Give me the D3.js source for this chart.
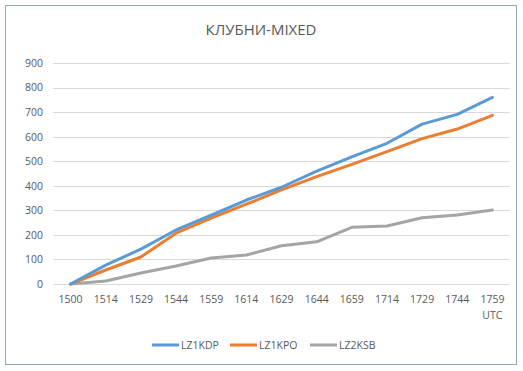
<!DOCTYPE html>
<html>
<head>
<meta charset="utf-8">
<script src="https://cdnjs.cloudflare.com/ajax/libs/d3/7.8.5/d3.min.js"></script>
<style>
body{margin:0;background:#fff;}
text{font-family:"Open Sans","Noto Sans",sans-serif;fill:#595959;}
</style>
</head>
<body>
<script>
var W=523,H=371;
var times=["1500","1514","1529","1544","1559","1614","1629","1644","1659","1714","1729","1744","1759"];
var lz1kdp=[0,77,142,220,280,342,394,460,518,573,651,691,760];
var lz1kpo=[0,57,110,207,268,325,383,437,487,539,592,631,687];
var lz2ksb=[0,12,45,73,106,118,156,172,231,236,270,281,301];
var yticks=[0,100,200,300,400,500,600,700,800,900];
var series=[
	{name:"LZ1KDP",values:lz1kdp,color:"#5B9BD5"},
	{name:"LZ1KPO",values:lz1kpo,color:"#ED7D31"},
	{name:"LZ2KSB",values:lz2ksb,color:"#A5A5A5"}
];

var svg=d3.select("body").append("svg").attr("width",W).attr("height",H);
svg.append("rect").attr("x",5.5).attr("y",5.5).attr("width",511).attr("height",359)
	.attr("fill","#fff").attr("stroke","#8FAAB9").attr("stroke-width",1); //chart border

svg.append("text").text("КЛУБНИ-MIXED").attr("x",261).attr("y",35).attr("text-anchor","middle")
	.attr("font-size",15);

var x=d3.scaleBand().domain(times).range([53,510]);
var y=d3.scaleLinear().domain([0,900]).range([284,63]);

// gridlines
svg.append("g").selectAll("line").data(yticks).enter().append("line")
	.attr("x1",53).attr("x2",510).attr("y1",function(d){return Math.round(y(d))+0.5;}).attr("y2",function(d){return Math.round(y(d))+0.5;})
	.attr("stroke","#D9D9D9").attr("stroke-width",1);

var ya=svg.append("g").attr("transform","translate(48,0)").call(d3.axisLeft(y).tickValues(yticks).tickSize(0).tickPadding(5));
ya.select(".domain").remove();
ya.selectAll("text").attr("font-size",10.5).attr("fill","#595959").attr("font-family","'Open Sans',sans-serif");

var xa=svg.append("g").attr("transform","translate(0,284)").call(d3.axisBottom(x).tickSize(0).tickPadding(12));
xa.select(".domain").remove();
xa.selectAll("text").attr("font-size",10.5).attr("fill","#595959").attr("font-family","'Open Sans',sans-serif");

svg.append("text").text("UTC").attr("x",x("1759")+x.bandwidth()/2+10).attr("y",319).attr("text-anchor","end").attr("font-size",10.5);

var line=d3.line().x(function(d,i){return x(times[i])+x.bandwidth()/2;}).y(function(d){return y(d);});
series.slice().reverse().forEach(function(s){
	svg.append("path").datum(s.values).attr("d",line).attr("fill","none")
		.attr("stroke",s.color).attr("stroke-width",3).attr("stroke-linejoin","round").attr("stroke-linecap","round");
});

// legend
var lx=[152,230,310];
series.forEach(function(s,i){
	svg.append("line").attr("x1",lx[i]).attr("x2",lx[i]+27).attr("y1",345).attr("y2",345)
		.attr("stroke",s.color).attr("stroke-width",3);
	svg.append("text").text(s.name).attr("x",lx[i]+29).attr("y",349).attr("font-size",10.5);
});
</script>
</body>
</html>
